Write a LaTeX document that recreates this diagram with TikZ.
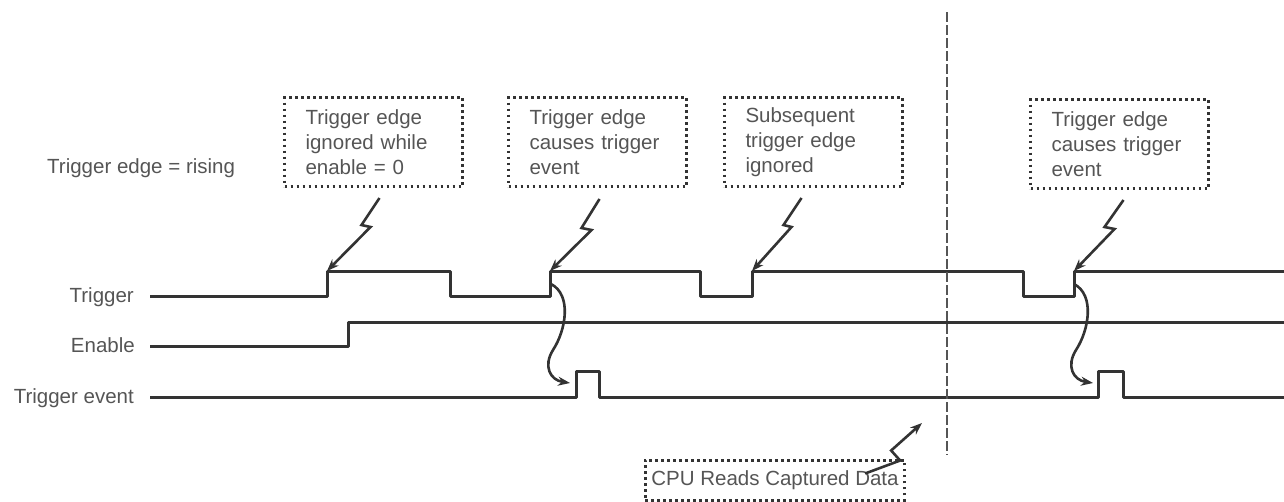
\documentclass[tikz,border=0pt]{standalone}
\usepackage{fontspec}
\setmainfont{Liberation Sans}
\usetikzlibrary{arrows.meta}
\definecolor{ink}{HTML}{333333}
\definecolor{txt}{HTML}{555555}
\tikzset{
  wave/.style={draw=ink, line width=3pt, line join=round},
  dots/.style={draw=ink, line width=3pt, dash pattern=on 2.6pt off 3.4pt, text=txt},
  note/.style={dots, align=left, text width=136pt, inner xsep=21pt,
    minimum height=89pt, anchor=north west},
  lbl/.style={text=txt, inner sep=0pt},
  zap/.style={draw=ink, line width=2.6pt, -{Stealth[length=12pt,width=9pt]}},
}
\begin{document}
\begin{tikzpicture}[x=1pt, y=-1pt, font=\fontsize{20.5}{25}\selectfont]
  \useasboundingbox (0,0) rectangle (1284,501);

  % signal names
  \node[lbl, anchor=base west] (mode) at (47,173) {Trigger edge = rising};
  \node[lbl, anchor=base east] (trig) at (134,302) {Trigger};
  \node[lbl, anchor=base east] (enab) at (135,352) {Enable};
  \node[lbl, anchor=base east] (evt) at (134,403) {Trigger event};

  % waveforms
  \draw[wave] (150,296) -- (327,296) -- (327,271) -- (450,271) -- (450,296)
    -- (550,296) -- (550,271) -- (700,271) -- (700,296) -- (752,296)
    -- (752,271) -- (1023,271) -- (1023,296) -- (1074,296) -- (1074,271)
    -- (1284,271);
  \draw[wave] (150,346) -- (348,346) -- (348,322) -- (1284,322);
  \draw[wave] (150,397) -- (576,397) -- (576,371) -- (599,371) -- (599,397)
    -- (1098,397) -- (1098,371) -- (1123,371) -- (1123,397) -- (1284,397);

  % notes
  \node[note] (ign) at (283,96) {Trigger edge\\ignored while\\enable = 0};
  \node[note] (cause) at (507,96) {Trigger edge\\causes trigger\\event};
  \node[note] (subs) at (723,96) {Subsequent\\trigger edge\\ignored};
  \node[note] (cause2) at (1029,98) {Trigger edge\\causes trigger\\event};
  \node[dots, inner xsep=6pt, minimum height=40pt] (cpu) at (775,480)
    {CPU Reads Captured Data};

  % edges pointed at
  \coordinate (r1) at (327,271);
  \coordinate (r2) at (550,271);
  \coordinate (r3) at (752,271);
  \coordinate (r4) at (1074,271);
  \coordinate (rd) at (922,423);
  \coordinate (e1) at (551,284);
  \coordinate (p1) at (570,383);
  \coordinate (e2) at (1074,284);
  \coordinate (p2) at (1093,383);
  \coordinate (capt top) at (947,12);
  \coordinate (capt bot) at (947,455);

  \draw[zap] ([xshift=6pt,yshift=-10pt]ign.south) -- ++(-18,27) -- ++(9,2) -- (r1);
  \draw[zap] ([xshift=2pt,yshift=-11pt]cause.south) -- ++(-18,29) -- ++(10,2) -- (r2);
  \draw[zap] ([xshift=-12pt,yshift=-10pt]subs.south) -- ++(-18,27) -- ++(8,2) -- (r3);
  \draw[zap] ([xshift=4pt,yshift=-10pt]cause2.south) -- ++(-19,27) -- ++(10,2) -- (r4);
  \draw[zap] ([xshift=-41pt,yshift=-15pt]cpu.north east) -- ++(35,-13) -- ++(-9,-10) -- (rd);

  % edge causes event
  \draw[zap] (e1) .. controls (572,295) and (566,330) .. (553,350)
    .. controls (543,366) and (550,380) .. (p1);
  \draw[zap] (e2) .. controls (1095,295) and (1089,330) .. (1076,350)
    .. controls (1066,366) and (1073,380) .. (p2);

  % capture point
  \draw[draw=txt, line width=2.8pt, dash pattern=on 10pt off 3pt] (capt top) -- (capt bot);
\end{tikzpicture}
\end{document}
